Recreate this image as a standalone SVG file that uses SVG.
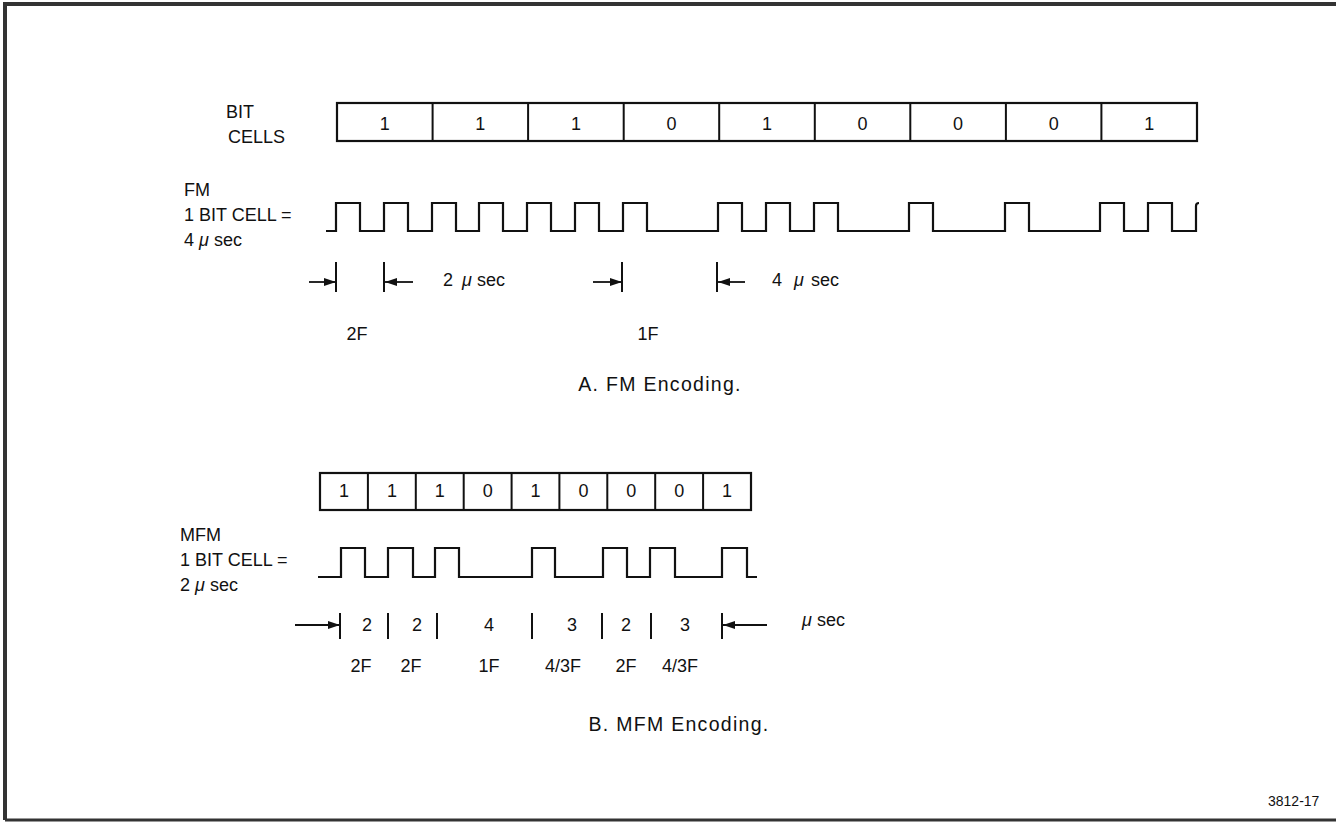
<svg xmlns="http://www.w3.org/2000/svg" width="1336" height="822" viewBox="0 0 1336 822">
<defs>
<style>
text{font-family:"Liberation Sans",Arial,sans-serif;font-size:18px;fill:#111}
.w{fill:none;stroke:#111;stroke-width:2.2;stroke-linejoin:miter}
.box{fill:#fff;stroke:#111;stroke-width:2.2}
.tick{stroke:#111;stroke-width:2}
.arr{stroke:#111;stroke-width:1.8;fill:none}
.mid{text-anchor:middle}
.mu{font-style:italic}
.cap{font-size:19.5px;letter-spacing:1.3px}
</style>
<marker id="ah" viewBox="0 0 12 10" refX="12" refY="5" markerWidth="12" markerHeight="10" markerUnits="userSpaceOnUse" orient="auto">
<path d="M0,1 L12,5 L0,9 Z" fill="#111"/>
</marker>
</defs>
<rect x="0" y="0" width="1336" height="822" fill="#fff"/>
<path d="M5,820 V4 H1336" fill="none" stroke="#333" stroke-width="4"/>
<path d="M5,820 H1336" fill="none" stroke="#333" stroke-width="3"/>

<g id="fm-labels">
<text x="226" y="118">BIT</text>
<text x="228" y="143">CELLS</text>
<text x="184" y="196">FM</text>
<text x="184" y="221">1 BIT CELL =</text>
<text x="184" y="246">4 <tspan class="mu">μ</tspan> sec</text>
</g>

<g id="fm-cells">
<rect class="box" x="337" y="103" width="860" height="38"/>
<path class="tick" d="M432.6,103V141 M528.1,103V141 M623.7,103V141 M719.2,103V141 M814.8,103V141 M910.3,103V141 M1005.9,103V141 M1101.4,103V141"/>
<text class="mid" x="384.8" y="130">1</text>
<text class="mid" x="480.3" y="130">1</text>
<text class="mid" x="575.9" y="130">1</text>
<text class="mid" x="671.4" y="130">0</text>
<text class="mid" x="767" y="130">1</text>
<text class="mid" x="862.6" y="130">0</text>
<text class="mid" x="958.1" y="130">0</text>
<text class="mid" x="1053.7" y="130">0</text>
<text class="mid" x="1149.2" y="130">1</text>
</g>

<g id="fm-wave">
<path class="w" d="M326,231 H336 V203 H360 V231 H384 V203 H408 V231 H432 V203 H456 V231 H479 V203 H503 V231 H527 V203 H551 V231 H575 V203 H599 V231 H623 V203 H647 V231 H718 V203 H742 V231 H766 V203 H790 V231 H814 V203 H838 V231 H909 V203 H933 V231 H1005 V203 H1029 V231 H1100 V203 H1124 V231 H1148 V203 H1172 V231 H1196 V206 Q1196,203 1199,203"/>
</g>

<g id="fm-connectors">
<line class="arr" x1="309" y1="282" x2="336" y2="282" marker-end="url(#ah)"/>
<line class="tick" x1="336" y1="262" x2="336" y2="292"/>
<line class="tick" x1="384" y1="262" x2="384" y2="292"/>
<line class="arr" x1="413" y1="282" x2="385" y2="282" marker-end="url(#ah)"/>
<line class="arr" x1="593" y1="282" x2="622" y2="282" marker-end="url(#ah)"/>
<line class="tick" x1="622" y1="262" x2="622" y2="292"/>
<line class="tick" x1="717" y1="262" x2="717" y2="292"/>
<line class="arr" x1="745" y1="282" x2="718" y2="282" marker-end="url(#ah)"/>
</g>

<g id="fm-annot">
<text y="286"><tspan x="443">2</tspan><tspan class="mu" x="462">μ</tspan><tspan x="477">sec</tspan></text>
<text y="286"><tspan x="772">4</tspan><tspan class="mu" x="794">μ</tspan><tspan x="811">sec</tspan></text>
<text class="mid" x="357" y="340">2F</text>
<text class="mid" x="648" y="340">1F</text>
<text class="mid cap" x="660" y="391">A. FM Encoding.</text>
</g>

<g id="mfm-labels">
<text x="180" y="541">MFM</text>
<text x="180" y="566">1 BIT CELL =</text>
<text x="180" y="591">2 <tspan class="mu">μ</tspan> sec</text>
</g>

<g id="mfm-cells">
<rect class="box" x="320" y="473" width="431" height="37"/>
<path class="tick" d="M367.9,473V510 M415.8,473V510 M463.7,473V510 M511.6,473V510 M559.4,473V510 M607.3,473V510 M655.2,473V510 M703.1,473V510"/>
<text class="mid" x="344" y="497">1</text>
<text class="mid" x="391.9" y="497">1</text>
<text class="mid" x="439.8" y="497">1</text>
<text class="mid" x="487.7" y="497">0</text>
<text class="mid" x="535.5" y="497">1</text>
<text class="mid" x="583.4" y="497">0</text>
<text class="mid" x="631.3" y="497">0</text>
<text class="mid" x="679.2" y="497">0</text>
<text class="mid" x="727.1" y="497">1</text>
</g>

<g id="mfm-wave">
<path class="w" d="M318,577 H341 V548 H365 V577 H388 V548 H413 V577 H435 V548 H459 V577 H532 V548 H555 V577 H603 V548 H627 V577 H650 V548 H675 V577 H722 V548 H747 V577 H757"/>
</g>

<g id="mfm-connectors">
<line class="arr" x1="295" y1="625" x2="340" y2="625" marker-end="url(#ah)"/>
<path class="tick" d="M340,613V639 M388,613V639 M437,613V639 M532,613V639 M602,613V639 M651,613V639 M722,613V639"/>
<line class="arr" x1="767" y1="625" x2="723" y2="625" marker-end="url(#ah)"/>
</g>

<g id="mfm-annot">
<text class="mid" x="367" y="631">2</text>
<text class="mid" x="417" y="631">2</text>
<text class="mid" x="489" y="631">4</text>
<text class="mid" x="572" y="631">3</text>
<text class="mid" x="626" y="631">2</text>
<text class="mid" x="685" y="631">3</text>
<text y="626"><tspan class="mu" x="802">μ</tspan><tspan x="817">sec</tspan></text>
<text class="mid" x="361" y="672">2F</text>
<text class="mid" x="411" y="672">2F</text>
<text class="mid" x="489" y="672">1F</text>
<text class="mid" x="563" y="672">4/3F</text>
<text class="mid" x="626" y="672">2F</text>
<text class="mid" x="680" y="672">4/3F</text>
<text class="mid cap" x="679" y="731">B.  MFM Encoding.</text>
<text x="1268" y="806" style="font-size:14px">3812-17</text>
</g>
</svg>
